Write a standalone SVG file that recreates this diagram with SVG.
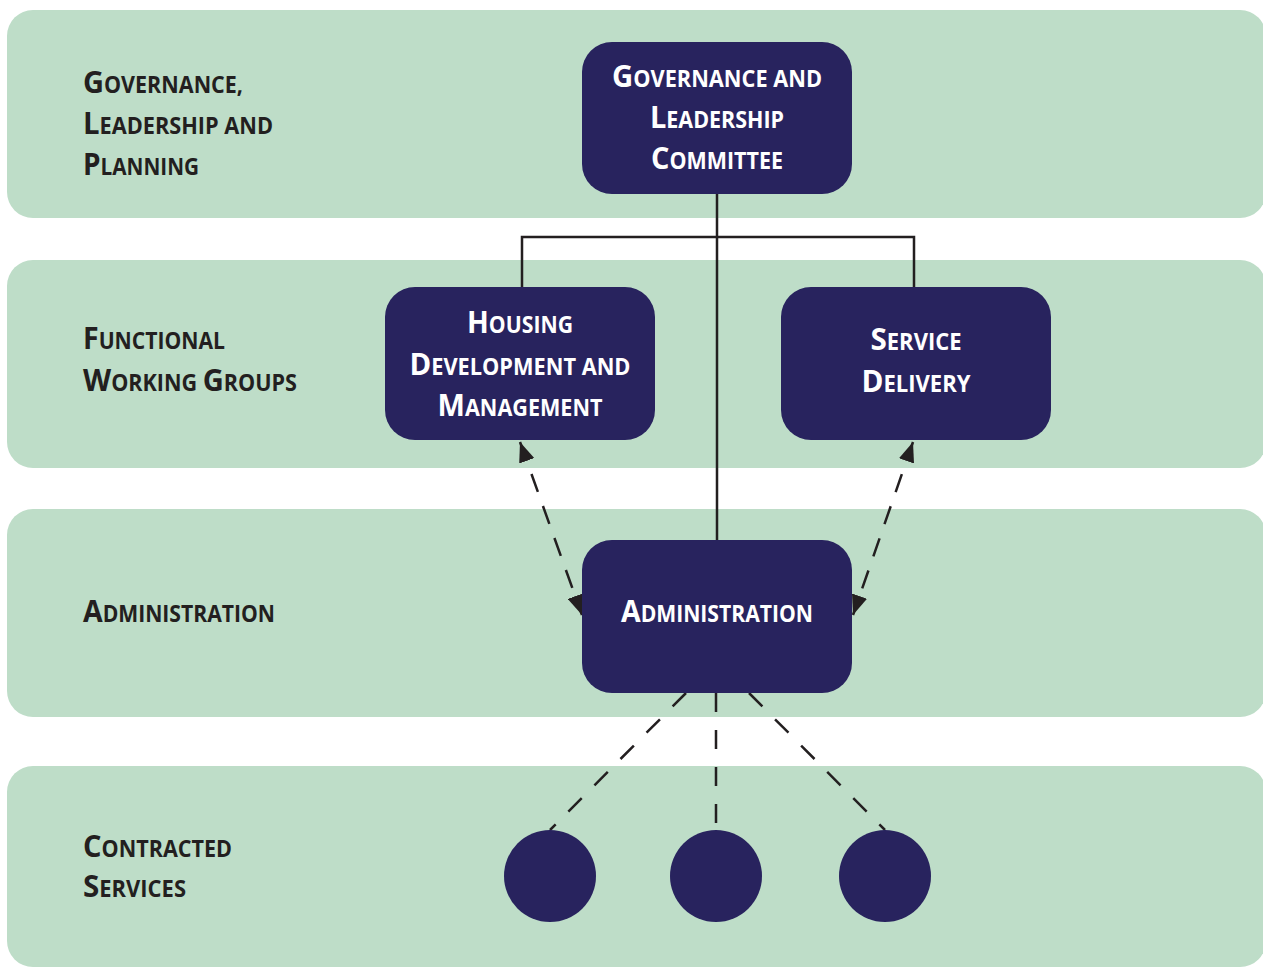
<svg xmlns="http://www.w3.org/2000/svg" width="1263" height="967" viewBox="0 0 1263 967">
<style>
.band{fill:#BEDDC8}
.node{fill:#28235E}
.lbl{font-family:"Open Sans","Liberation Sans",sans-serif;font-weight:700;font-size:23px;fill:#231F20}
.ntx{font-family:"Open Sans","Liberation Sans",sans-serif;font-weight:700;font-size:23px;fill:#FFFFFF;text-anchor:middle}
.cap{font-size:31px}
.solid{fill:none;stroke:#231F20;stroke-width:2.5}
.dash{fill:none;stroke:#231F20;stroke-width:2.5;stroke-dasharray:19 18}
.dasha{fill:none;stroke:#231F20;stroke-width:2.5;stroke-dasharray:19 15}
</style>
<defs>
<marker id="ah" viewBox="0 0 20 16" refX="20" refY="8" markerWidth="20" markerHeight="16" markerUnits="userSpaceOnUse" orient="auto-start-reverse">
<path d="M0,0 L20,8 L0,16 Z" fill="#231F20"/>
</marker>
</defs>
<rect width="1263" height="967" fill="#FFFFFF"/>
<g id="bands">
<rect class="band" x="7" y="10" width="1259" height="208" rx="26"/>
<rect class="band" x="7" y="260" width="1259" height="208" rx="26"/>
<rect class="band" x="7" y="509" width="1259" height="208" rx="26"/>
<rect class="band" x="7" y="766" width="1259" height="201" rx="26"/>
</g>
<g id="lane-labels">
<text class="lbl" x="83" y="93" textLength="160" lengthAdjust="spacingAndGlyphs"><tspan class="cap">G</tspan>OVERNANCE,</text>
<text class="lbl" x="83" y="134" textLength="190" lengthAdjust="spacingAndGlyphs"><tspan class="cap">L</tspan>EADERSHIP AND</text>
<text class="lbl" x="83" y="175" textLength="116" lengthAdjust="spacingAndGlyphs"><tspan class="cap">P</tspan>LANNING</text>
<text class="lbl" x="83" y="349" textLength="142" lengthAdjust="spacingAndGlyphs"><tspan class="cap">F</tspan>UNCTIONAL</text>
<text class="lbl" x="83" y="391" textLength="214" lengthAdjust="spacingAndGlyphs"><tspan class="cap">W</tspan>ORKING <tspan class="cap">G</tspan>ROUPS</text>
<text class="lbl" x="83" y="622" textLength="192" lengthAdjust="spacingAndGlyphs"><tspan class="cap">A</tspan>DMINISTRATION</text>
<text class="lbl" x="83" y="857" textLength="149" lengthAdjust="spacingAndGlyphs"><tspan class="cap">C</tspan>ONTRACTED</text>
<text class="lbl" x="83" y="897" textLength="103" lengthAdjust="spacingAndGlyphs"><tspan class="cap">S</tspan>ERVICES</text>
</g>
<g id="connectors">
<path class="solid" d="M717,194 V540"/>
<path class="solid" d="M522,287 V237 H914 V287"/>
<path class="dasha" d="M520,442 L582,615" marker-start="url(#ah)" marker-end="url(#ah)"/>
<path class="dasha" d="M913,442 L853,615" marker-start="url(#ah)" marker-end="url(#ah)"/>
<path class="dash" d="M686,693 L550,830"/>
<path class="dash" d="M716,693 V830"/>
<path class="dash" d="M749,693 L885,830"/>
</g>
<g id="node-committee">
<rect class="node" x="582" y="42" width="270" height="152" rx="30"/>
<text class="ntx" x="717" y="87" textLength="210" lengthAdjust="spacingAndGlyphs"><tspan class="cap">G</tspan>OVERNANCE AND</text>
<text class="ntx" x="717" y="128" textLength="134" lengthAdjust="spacingAndGlyphs"><tspan class="cap">L</tspan>EADERSHIP</text>
<text class="ntx" x="717" y="169" textLength="132" lengthAdjust="spacingAndGlyphs"><tspan class="cap">C</tspan>OMMITTEE</text>
</g>
<g id="node-housing">
<rect class="node" x="385" y="287" width="270" height="153" rx="30"/>
<text class="ntx" x="520" y="333" textLength="106" lengthAdjust="spacingAndGlyphs"><tspan class="cap">H</tspan>OUSING</text>
<text class="ntx" x="520" y="375" textLength="221" lengthAdjust="spacingAndGlyphs"><tspan class="cap">D</tspan>EVELOPMENT AND</text>
<text class="ntx" x="520" y="416" textLength="165" lengthAdjust="spacingAndGlyphs"><tspan class="cap">M</tspan>ANAGEMENT</text>
</g>
<g id="node-service">
<rect class="node" x="781" y="287" width="270" height="153" rx="30"/>
<text class="ntx" x="916" y="350" textLength="91" lengthAdjust="spacingAndGlyphs"><tspan class="cap">S</tspan>ERVICE</text>
<text class="ntx" x="916" y="392" textLength="109" lengthAdjust="spacingAndGlyphs"><tspan class="cap">D</tspan>ELIVERY</text>
</g>
<g id="node-admin">
<rect class="node" x="582" y="540" width="270" height="153" rx="30"/>
<text class="ntx" x="717" y="622" textLength="192" lengthAdjust="spacingAndGlyphs"><tspan class="cap">A</tspan>DMINISTRATION</text>
</g>
<g id="node-service-1"><circle class="node" cx="550" cy="876" r="46"/></g>
<g id="node-service-2"><circle class="node" cx="716" cy="876" r="46"/></g>
<g id="node-service-3"><circle class="node" cx="885" cy="876" r="46"/></g>
</svg>
